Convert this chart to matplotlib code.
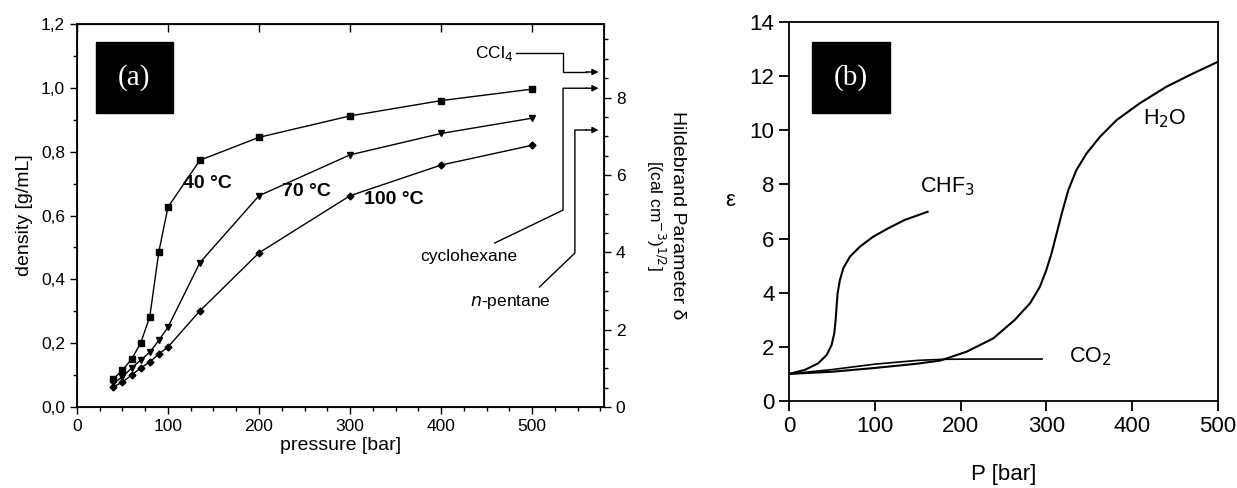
import matplotlib.pyplot as plt
from matplotlib.ticker import MultipleLocator, FuncFormatter

plt.rcParams['font.family'] = ['Liberation Sans', 'DejaVu Sans']

# panel (a): CO2 density isotherms
p_a = [40, 50, 60, 70, 80, 90, 100, 135, 200, 300, 400, 500]
rho_40 = [0.088, 0.115, 0.15, 0.2, 0.283, 0.487, 0.626, 0.773, 0.845, 0.912, 0.96, 0.996]
rho_70 = [0.075, 0.094, 0.122, 0.147, 0.172, 0.209, 0.25, 0.452, 0.662, 0.79, 0.857, 0.905]
rho_100 = [0.063, 0.078, 0.1, 0.122, 0.141, 0.166, 0.188, 0.301, 0.483, 0.662, 0.758, 0.82]
temp_labels = ["40 °C", "70 °C", "100 °C"]

# Hildebrand parameters of reference solvents
solvents = ["CCl$_4$", "cyclohexane", "$n$-pentane"]
hildebrand = [8.66, 8.24, 7.16]

# panel (b): dielectric constant vs pressure
p_chf3 = [0, 18.6, 34, 44, 49.7, 52.8, 54.4, 55.5, 56.7, 59.4, 63.3, 71, 82.7, 98.2, 115.7, 135, 161.6]
eps_chf3 = [1.0, 1.15, 1.39, 1.70, 2.07, 2.50, 2.99, 3.48, 3.98, 4.47, 4.90, 5.33, 5.70, 6.07, 6.38, 6.69, 6.99]
p_h2o = [0, 50, 100, 150, 176, 207, 238, 263, 281, 292.5, 300, 306, 312, 318, 325.6, 335, 347,
         362.5, 382, 409, 440, 471, 500]
eps_h2o = [1.0, 1.08, 1.22, 1.38, 1.49, 1.82, 2.31, 2.99, 3.61, 4.22, 4.84, 5.45, 6.19, 6.93, 7.79,
           8.53, 9.15, 9.76, 10.38, 11.0, 11.61, 12.1, 12.53]
p_co2 = [0, 50, 100, 150, 180, 220, 295]
eps_co2 = [1.0, 1.16, 1.36, 1.5, 1.54, 1.55, 1.55]

fig = plt.figure(figsize=(12.37, 4.88), dpi=100)

# ---------------- left panel ----------------
ax = fig.add_axes([0.0622, 0.166, 0.4261, 0.7848])
ax.plot(p_a, rho_40, "-s", color="black", lw=1, ms=4)
ax.plot(p_a, rho_70, "-v", color="black", lw=1, ms=4.5)
ax.plot(p_a, rho_100, "-D", color="black", lw=1, ms=3.5)
ax.set_xlim(0, 579)
ax.set_ylim(0, 1.2)
ax.xaxis.set_major_locator(MultipleLocator(100))
ax.xaxis.set_minor_locator(MultipleLocator(25))
ax.yaxis.set_major_locator(MultipleLocator(0.2))
ax.yaxis.set_minor_locator(MultipleLocator(0.1))
ax.yaxis.set_major_formatter(FuncFormatter(lambda v, pos: f"{v:.1f}".replace(".", ",")))
ax.tick_params(axis="both", which="major", direction="out", length=5, width=1, labelsize=12.5, colors="black")
ax.tick_params(axis="both", which="minor", direction="out", length=3, width=1)
ax.set_xlabel("pressure [bar]", fontsize=14, labelpad=2)
ax.set_ylabel("density [g/mL]", fontsize=14, labelpad=6)
for s in ax.spines.values():
    s.set_linewidth(1.3)

# inward major ticks on the top edge
top = ax.secondary_xaxis("top")
top.xaxis.set_major_locator(MultipleLocator(100))
top.tick_params(direction="in", length=6, width=1, labeltop=False)

ax.text(116, 0.70, temp_labels[0], fontsize=14, fontweight="bold", va="center")
ax.text(225, 0.674, temp_labels[1], fontsize=14, fontweight="bold", va="center")
ax.text(315, 0.649, temp_labels[2], fontsize=14, fontweight="bold", va="center")

ax.add_patch(plt.Rectangle((21, 0.921), 84, 0.222, color="black", zorder=3))
ax.text(63, 1.032, "(a)", color="white", fontsize=21, family="Liberation Serif",
        ha="center", va="center", zorder=4)

ax2 = ax.twinx()
ax2.set_ylim(0, 9.9)
ax2.yaxis.set_major_locator(MultipleLocator(2))
ax2.yaxis.set_minor_locator(MultipleLocator(0.5))
ax2.tick_params(axis="y", which="major", direction="out", length=5, width=1, labelsize=12.5)
ax2.tick_params(axis="y", which="minor", direction="out", length=3, width=1)
ax2.text(1.14, 0.5, "Hildebrand Parameter δ", rotation=270, transform=ax2.transAxes,
         fontsize=14, ha="center", va="center")
ax2.text(1.098, 0.5, "[(cal cm$^{-3}$)$^{1/2}$]", rotation=270, transform=ax2.transAxes,
         fontsize=12.5, ha="center", va="center")

# solvent pointers
ax2.text(458, 9.15, solvents[0], fontsize=12.5, ha="center", va="center")
ax2.plot([482, 534, 534, 560], [9.15, 9.15, hildebrand[0], hildebrand[0]], color="black", lw=1)
ax2.text(431, 3.9, solvents[1], fontsize=12.5, ha="center", va="center")
ax2.plot([459, 534, 534, 560], [4.24, 5.09, hildebrand[1], hildebrand[1]], color="black", lw=1)
ax2.text(476, 2.71, solvents[2], fontsize=12.5, ha="center", va="center")
ax2.plot([508, 547, 547, 560], [3.1, 3.98, hildebrand[2], hildebrand[2]], color="black", lw=1)
for h in hildebrand:
    ax2.annotate("", xy=(576, h), xytext=(556, h),
                 arrowprops=dict(arrowstyle="-|>", color="black", lw=1, mutation_scale=9))

# ---------------- right panel ----------------
bx = fig.add_axes([0.6378, 0.1783, 0.3468, 0.7766])
bx.plot(p_chf3, eps_chf3, color="black", lw=1.5)
bx.plot(p_h2o, eps_h2o, color="black", lw=1.5)
bx.plot(p_co2, eps_co2, color="black", lw=1.2)
bx.set_xlim(0, 500)
bx.set_ylim(0, 14)
bx.xaxis.set_major_locator(MultipleLocator(100))
bx.yaxis.set_major_locator(MultipleLocator(2))
bx.tick_params(axis="both", direction="out", length=7, width=1.3, labelsize=16)
bx.set_xlabel("P [bar]", fontsize=16, labelpad=20)
bx.set_ylabel("ε", fontsize=16, labelpad=14, rotation=0)
for s in bx.spines.values():
    s.set_linewidth(1.3)

bx.text(153, 7.9, "CHF$_3$", fontsize=15.5, va="center")
bx.text(413, 10.43, "H$_2$O", fontsize=15.5, va="center")
bx.text(326, 1.62, "CO$_2$", fontsize=15.5, va="center")

bx.add_patch(plt.Rectangle((27, 10.64), 91, 2.62, color="black", zorder=3))
bx.text(72.5, 11.95, "(b)", color="white", fontsize=21, family="Liberation Serif",
        ha="center", va="center", zorder=4)

plt.savefig("out.png", dpi=100)
